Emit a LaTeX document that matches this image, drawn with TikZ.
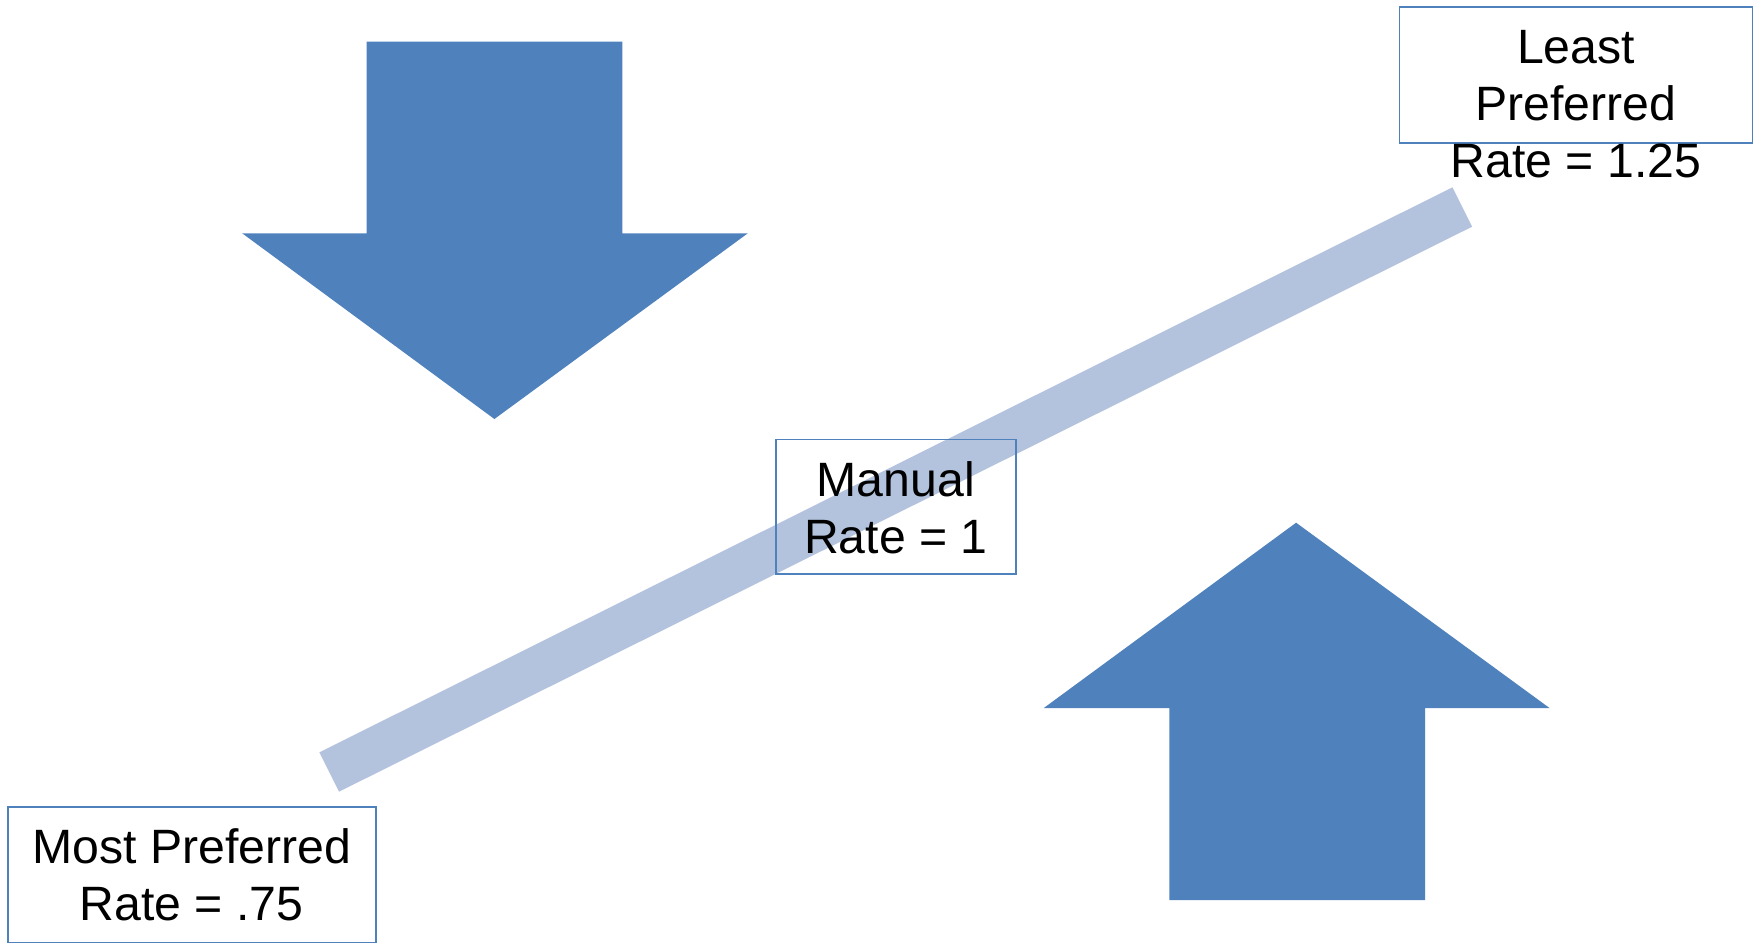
\documentclass[tikz,border=0pt]{standalone}
\usepackage{fontspec}
\setmainfont{Liberation Sans}
\definecolor{arrowblue}{HTML}{4F81BD}
\definecolor{barblue}{RGB}{179,195,222}
\tikzset{
  bigarrow/.style={fill=arrowblue, draw=none},
  bar/.style={draw=barblue, line width=44pt, line cap=butt},
  framebox/.style={draw=arrowblue, line width=1.6pt, fill=none, inner sep=0pt, rectangle},
  txt/.style={font=\fontsize{48.2}{57}\selectfont, inner sep=0pt, anchor=base, text=black}
}
\begin{document}
\begin{tikzpicture}[x=1pt,y=-1pt]
\useasboundingbox (0,0) rectangle (1758,943);
% seesaw bar
\coordinate (barL) at (329.2,772);
\coordinate (barR) at (1462.3,207);
\draw[bar] (barL) -- (barR);
% down arrow
\fill[bigarrow] (366.6,41.7) -- (622.3,41.7) -- (622.3,233.3) -- (747.8,233.3) -- (494.4,419) -- (242.2,233.3) -- (366.6,233.3) -- cycle;
% up arrow
\fill[bigarrow] (1169.4,900) -- (1425,900) -- (1425,708) -- (1549.5,708) -- (1296.1,522.7) -- (1043.8,708) -- (1169.4,708) -- cycle;
% boxes
\node[framebox, minimum width=353pt, minimum height=136pt] (lpbox) at (1575.8,74.7) {};
\node[framebox, minimum width=368pt, minimum height=135.6pt] (mpbox) at (191.7,874.5) {};
\node[framebox, minimum width=240.3pt, minimum height=134.7pt] (manbox) at (895.9,506.7) {};
% texts
\node[txt] (lp1) at (1576,63) {Least};
\node[txt] (lp2) at (1576,120) {Preferred};
\node[txt] (lp3) at (1576,177) {Rate = 1.25};
\node[txt] (mp1) at (191.7,863.3) {Most Preferred};
\node[txt] (mp2) at (191.7,920) {Rate = .75};
\node[txt] (man1) at (895.8,496.7) {Manual};
\node[txt] (man2) at (895.8,553.3) {Rate = 1};
\end{tikzpicture}
\end{document}
